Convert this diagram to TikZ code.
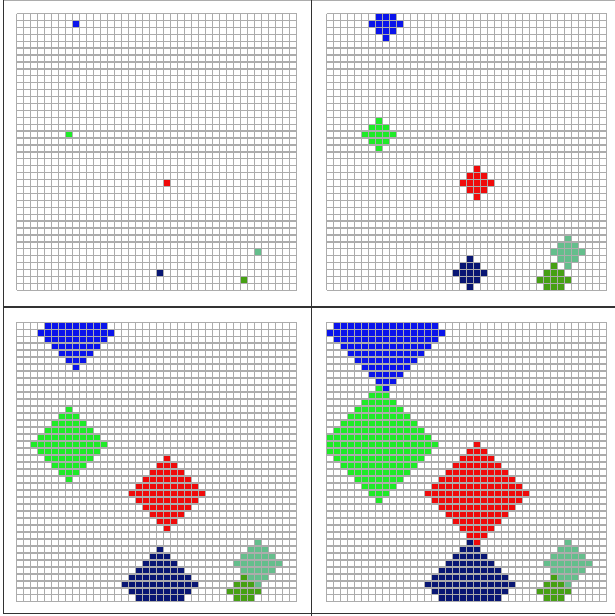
\documentclass[tikz,border=0pt]{standalone}
\definecolor{cblue}{RGB}{10,20,235}
\definecolor{cgreen}{RGB}{30,235,40}
\definecolor{cred}{RGB}{240,10,10}
\definecolor{cnavy}{RGB}{8,22,115}
\definecolor{cteal}{RGB}{100,190,140}
\definecolor{cdkgreen}{RGB}{70,160,20}
\definecolor{cgridline}{RGB}{172,172,172}
\definecolor{cframe}{RGB}{50,50,50}
\tikzset{
  gridline/.style={draw=cgridline, line width=1.35pt},
  frameline/.style={draw=cframe, line width=1.8pt},
  topline/.style={draw=cgridline, line width=1.4pt}
}
\newcommand\growseed[4]{%
  \foreach \dy in {-#3,...,#3}{%
    \pgfmathtruncatemacro\rr{#3-abs(\dy)}%
    \foreach \dx in {-\rr,...,\rr}{%
      \fill[#4] (#1+\dx,#2+\dy) rectangle ++(1,1);
    }}}
\newcommand\gridpanel[5]{%
  \begin{scope}[shift={(#1,#2)}, x=#3pt, y=-#4pt]
    \fill[white] (0,0) rectangle (40,40);
    \pgfmathtruncatemacro\Rbig{#5}%
    \pgfmathtruncatemacro\Rred{min(#5,7)}%
    \pgfmathtruncatemacro\Rnavy{min(#5,6)}%
    \pgfmathtruncatemacro\Rteal{min(#5,3)}%
    \pgfmathtruncatemacro\Rdk{min(#5,2)}%
    \begin{scope}
      \clip (0,0) rectangle (40,40);
      \growseed{8}{1}{\Rbig}{cblue}
      \growseed{7}{17}{\Rbig}{cgreen}
      \growseed{21}{24}{\Rred}{cred}
      \growseed{20}{37}{\Rnavy}{cnavy}
      \growseed{34}{34}{\Rteal}{cteal}
      \growseed{32}{38}{\Rdk}{cdkgreen}
    \end{scope}
    \foreach \i in {0,...,40}{%
      \draw[gridline] (\i,0) -- (\i,40);
      \draw[gridline] (0,\i) -- (40,\i);
    }
  \end{scope}}
\begin{document}
\begin{tikzpicture}[x=1pt,y=-1pt]
  \useasboundingbox (0,0) rectangle (615,616);
  \fill[white] (0,0) rectangle (615,616);
  \gridpanel{16.7}{13.5}{7.0}{6.92}{0}
  \gridpanel{326.7}{13.5}{7.0}{6.92}{2}
  \gridpanel{16.7}{322.2}{7.0}{6.99}{5}
  \gridpanel{326.7}{322.2}{7.0}{6.99}{8}
  \draw[topline] (3.5,0.7) -- (615,0.7);
  \draw[frameline] (3.5,0) -- (3.5,613.5);
  \draw[frameline] (311.5,0) -- (311.5,616);
  \draw[frameline] (3.5,307.3) -- (615,307.3);
  \draw[frameline] (3.5,613.5) -- (615,613.5);
\end{tikzpicture}
\end{document}
